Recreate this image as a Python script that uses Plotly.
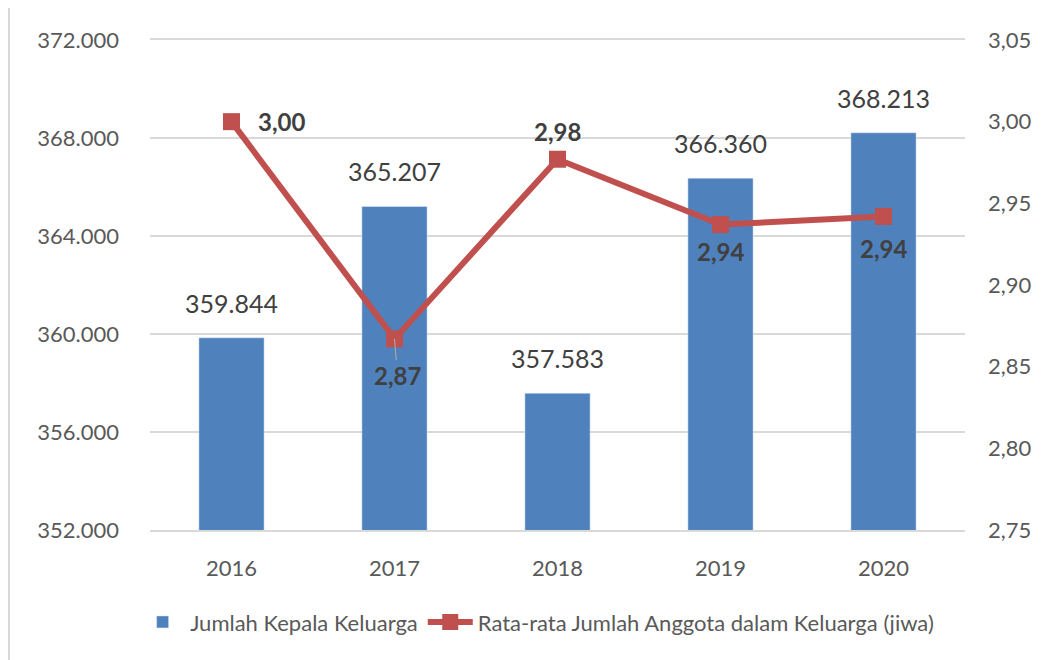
import plotly.graph_objects as go

years = ["2016", "2017", "2018", "2019", "2020"]
kepala_keluarga = [359844, 365207, 357583, 366360, 368213]
rata_anggota = [3.00, 2.867, 2.977, 2.937, 2.942]
rata_label = ["3,00", "2,87", "2,98", "2,94", "2,94"]

# label offsets (pixels) for the line labels
line_dx = [50, 3, 0, 0, 0]
line_dy = [0, -37, 28, -27, -32]

FONT = "Lato, Open Sans, sans-serif"
TXT = "#404040"
GRID = "#d9d9d9"

fig = go.Figure()
fig.add_trace(go.Bar(
    x=years, y=kepala_keluarga, name="Jumlah Kepala Keluarga",
    marker_color="#4f81bd", width=0.4,
))
fig.add_trace(go.Scatter(
    x=years, y=rata_anggota, name="Rata-rata Jumlah Anggota dalam Keluarga (jiwa)",
    yaxis="y2", mode="lines+markers",
    line=dict(color="#c0504d", width=6),
    marker=dict(symbol="square", size=17, color="#c0504d"),
    cliponaxis=False,
))

annotations = []
# category axis: annotations are placed by category index
for idx, v in enumerate(kepala_keluarga):
    annotations.append(dict(
        x=idx, y=v, xref="x", yref="y", text=f"{v:,}".replace(",", "."),
        showarrow=False, yanchor="bottom", yshift=18,
        font=dict(size=25, color=TXT, family=FONT),
    ))
for idx, (v, lab) in enumerate(zip(rata_anggota, rata_label)):
    ann = dict(
        x=idx, y=v, xref="x", yref="y2", text=f"<b>{lab}</b>",
        showarrow=False, xshift=line_dx[idx], yshift=line_dy[idx],
        font=dict(size=24, color=TXT, family=FONT),
    )
    if idx == 1:
        ann.update(showarrow=True, arrowhead=0, arrowwidth=1.2, arrowcolor="#a6a6a6",
                   ax=line_dx[idx], ay=-line_dy[idx], xshift=0, yshift=0, standoff=0)
    annotations.append(ann)

fig.update_layout(
    width=1045, height=660,
    margin=dict(l=142, r=88, t=32, b=138),
    paper_bgcolor="white", plot_bgcolor="white",
    separators=",.",
    font=dict(family=FONT, size=22, color="#595959"),
    showlegend=True,
    legend=dict(orientation="h", x=0.475, xanchor="center", y=-0.188, yanchor="middle",
                font=dict(size=22, color="#595959"), itemwidth=45),
    annotations=annotations,
    shapes=[dict(type="line", xref="paper", yref="paper",
                 x0=-141 / 815, x1=-141 / 815, y0=-0.3, y1=1.1,
                 line=dict(color=GRID, width=2))],
    xaxis=dict(type="category", range=[-0.5, len(years) - 0.5], showgrid=False,
               showline=True, linecolor=GRID, linewidth=1.5,
               mirror=True, ticks="", tickfont=dict(size=22), ticklabelstandoff=18),
    yaxis=dict(range=[352000, 372000], dtick=4000, tickformat=",d",
               showgrid=True, gridcolor=GRID, gridwidth=1.5, zeroline=False,
               ticks="", ticklabelstandoff=30),
    yaxis2=dict(range=[2.75, 3.05], dtick=0.05, tickformat=".2f",
                overlaying="y", side="right", showgrid=False, zeroline=False,
                ticks="", ticklabelstandoff=22),
)

fig.write_html("out.html")
